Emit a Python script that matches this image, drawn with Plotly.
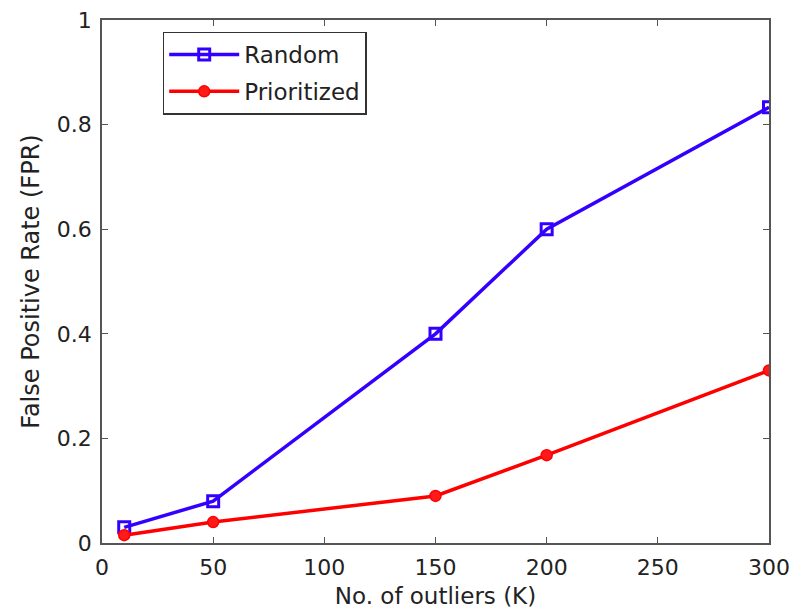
import plotly.graph_objects as go

# Number of outliers K and false positive rates for the two strategies
outliers_k = [10, 50, 150, 200, 300]
fpr_random = [0.03, 0.08, 0.40, 0.60, 0.833]
fpr_prioritized = [0.015, 0.04, 0.09, 0.168, 0.33]

x_ticks = [0, 50, 100, 150, 200, 250, 300]
y_ticks = [0, 0.2, 0.4, 0.6, 0.8, 1]
y_tick_text = ["0", "0.2", "0.4", "0.6", "0.8", "1"]

FONT = "DejaVu Sans, Arial, Helvetica, sans-serif"
TEXT = "#222222"

fig = go.Figure()
fig.add_trace(go.Scatter(
    x=outliers_k, y=fpr_random, name="Random", mode="lines+markers",
    legendgroup="random",
    line=dict(color="#3300ff", width=3.5),
    marker=dict(symbol="square-open", size=11, color="#3300ff",
                line=dict(color="#3300ff", width=3)),
))
fig.add_trace(go.Scatter(
    x=outliers_k, y=fpr_prioritized, name="Prioritized", mode="lines+markers",
    legendgroup="prioritized",
    line=dict(color="#ff0000", width=3.5),
    marker=dict(symbol="circle", size=11, color="#ff1a1a",
                line=dict(color="#ff0000", width=1.5)),
))

axis_common = dict(
    showline=True, mirror="ticks", linecolor="#555555", linewidth=1.5,
    ticks="inside", ticklen=6, tickwidth=1, tickcolor="#555555",
    showgrid=False, zeroline=False, automargin=False,
    ticklabelstandoff=4,
    tickfont=dict(family=FONT, size=22, color=TEXT),
)

fig.update_xaxes(
    range=[0, 300], tickvals=x_ticks,
    title=dict(text="No. of outliers (K)", standoff=12,
               font=dict(family=FONT, size=23, color=TEXT)),
    **axis_common,
)
fig.update_yaxes(
    range=[0, 1], tickvals=y_ticks, ticktext=y_tick_text,
    title=dict(text="False Positive Rate (FPR)", standoff=10,
               font=dict(family=FONT, size=24, color=TEXT)),
    **axis_common,
)

fig.update_layout(
    width=794, height=609,
    margin=dict(l=102, r=25, t=20, b=66),
    paper_bgcolor="white", plot_bgcolor="white",
    showlegend=True,
    legend=dict(
        x=0.091, y=0.978, xanchor="left", yanchor="top",
        bgcolor="white", bordercolor="#333333", borderwidth=1.5,
        font=dict(family=FONT, size=23, color=TEXT),
        itemwidth=70, tracegroupgap=4,
        entrywidth=167, entrywidthmode="pixels",
    ),
)

fig.write_html("out.html")
